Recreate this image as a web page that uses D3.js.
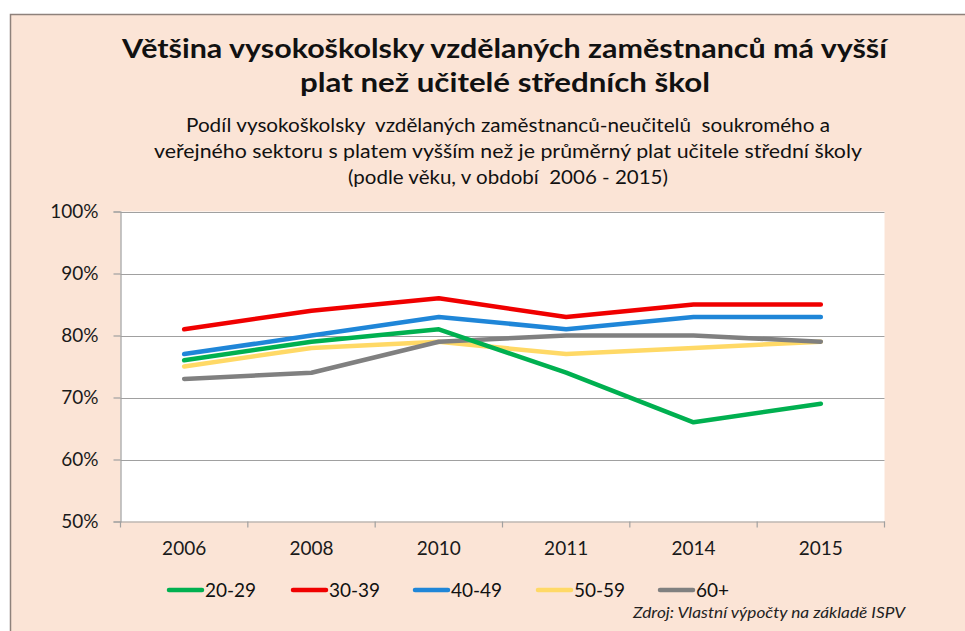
<!DOCTYPE html>
<html>
<head>
<meta charset="utf-8">
<script src="https://cdn.jsdelivr.net/npm/d3@7"></script>
<style>
  html, body { margin: 0; padding: 0; background: #ffffff; }
  svg { display: block; font-family: Lato, "Open Sans", sans-serif; }
  .pre { white-space: pre; }
</style>
</head>
<body>
<svg id="chart" width="965" height="631"></svg>
<script>
const years = ["2006", "2008", "2010", "2011", "2014", "2015"];
const groups = ["20-29", "30-39", "40-49", "50-59", "60+"];
const colors = ["#00B050", "#F00000", "#1F86D8", "#FFD966", "#808080"];
const v2029 = [76, 79, 81, 74, 66, 69];
const v3039 = [81, 84, 86, 83, 85, 85];
const v4049 = [77, 80, 83, 81, 83, 83];
const v5059 = [75, 78, 79, 77, 78, 79];
const v60   = [73, 74, 79, 80, 80, 79];
const yTicks = [50, 60, 70, 80, 90, 100];
const titleLines = ["Většina vysokoškolsky vzdělaných zaměstnanců má vyšší", "plat než učitelé středních škol"];
const subtitleLines = [
  "Podíl vysokoškolsky  vzdělaných zaměstnanců-neučitelů  soukromého a",
  "veřejného sektoru s platem vyšším než je průměrný plat učitele střední školy",
  "(podle věku, v období  2006 - 2015)"
];
const sourceText = "Zdroj: Vlastní výpočty na základě ISPV";

const seriesValues = [v2029, v3039, v4049, v5059, v60];
const drawOrder = [3, 4, 0, 2, 1];

const titleLayout = [{ x0: 122, x1: 887, y: 58 }, { x0: 300, x1: 710, y: 92 }];
const subtitleLayout = [{ x0: 186, x1: 830, y: 132 }, { x0: 154, x1: 862, y: 158 }, { x0: 348, x1: 668, y: 184 }];

const svg = d3.select("#chart");

// background panel
svg.append("rect").attr("x", 10.5).attr("y", 14.5).attr("width", 965).attr("height", 640)
  .attr("fill", "#FBE4D6").attr("stroke", "#8E817B").attr("stroke-width", 1.5);

const plot = { left: 120.5, right: 884.5, top: 211.5, bottom: 521.5 };

const x = d3.scaleBand().domain(years).range([plot.left, plot.right]).paddingInner(0).paddingOuter(0);
const y = d3.scaleLinear().domain([50, 100]).range([plot.bottom, plot.top]);

svg.append("rect").attr("x", plot.left).attr("y", plot.top)
  .attr("width", plot.right - plot.left).attr("height", plot.bottom - plot.top).attr("fill", "#ffffff");

// gridlines
svg.append("g").selectAll("line").data(yTicks.filter(d => d > 50)).join("line")
  .attr("x1", plot.left).attr("x2", plot.right)
  .attr("y1", d => Math.round(y(d)) + 0.5).attr("y2", d => Math.round(y(d)) + 0.5)
  .attr("stroke", "#A0A0A0").attr("stroke-width", 1.2);

// y axis
const yAxis = d3.axisLeft(y).tickValues(yTicks).tickFormat(d => d + "%").tickSize(7).tickPadding(15);
const gy = svg.append("g").attr("transform", `translate(${plot.left},0)`).call(yAxis);
gy.select(".domain").attr("stroke", "#A0A0A0").attr("stroke-width", 1.2);
gy.selectAll(".tick line").attr("stroke", "#A0A0A0").attr("stroke-width", 1.2);
gy.selectAll("text").attr("font-size", 19).attr("fill", "#1a1a1a").attr("font-family", "Lato, sans-serif");

// x axis
const xAxis = d3.axisBottom(x).tickSize(0).tickPadding(20);
const gx = svg.append("g").attr("transform", `translate(0,${plot.bottom})`).call(xAxis);
gx.select(".domain").attr("stroke", "#A0A0A0").attr("stroke-width", 1.2);
gx.selectAll("text").attr("font-size", 19).attr("fill", "#1a1a1a").attr("font-family", "Lato, sans-serif");
const boundaries = years.map(d => x(d)).concat([x(years[years.length - 1]) + x.bandwidth()]);
gx.append("g").selectAll("line").data(boundaries).join("line")
  .attr("x1", d => d).attr("x2", d => d).attr("y1", 0).attr("y2", 6)
  .attr("stroke", "#A0A0A0").attr("stroke-width", 1.2);

// lines
const line = d3.line().x((d, i) => x(years[i]) + x.bandwidth() / 2).y(d => y(d));
svg.append("g").selectAll("path").data(drawOrder).join("path")
  .attr("d", k => line(seriesValues[k]))
  .attr("fill", "none").attr("stroke", k => colors[k])
  .attr("stroke-width", 4.5).attr("stroke-linejoin", "round").attr("stroke-linecap", "round");

// title
svg.append("g").selectAll("text").data(titleLines).join("text")
  .attr("class", "pre")
  .attr("x", (d, i) => titleLayout[i].x0).attr("y", (d, i) => titleLayout[i].y)
  .attr("textLength", (d, i) => titleLayout[i].x1 - titleLayout[i].x0)
  .attr("lengthAdjust", "spacingAndGlyphs")
  .attr("font-size", 26).attr("font-weight", "bold")
  .attr("fill", "#111").text(d => d);

// subtitle
svg.append("g").selectAll("text").data(subtitleLines).join("text")
  .attr("class", "pre")
  .attr("x", (d, i) => subtitleLayout[i].x0).attr("y", (d, i) => subtitleLayout[i].y)
  .attr("textLength", (d, i) => subtitleLayout[i].x1 - subtitleLayout[i].x0)
  .attr("lengthAdjust", "spacingAndGlyphs")
  .attr("font-size", 18.5)
  .attr("fill", "#111").text(d => d);

// legend
const legendX = [169, 293, 415, 538, 660];
const lg = svg.append("g").selectAll("g").data(groups).join("g")
  .attr("transform", (d, i) => `translate(${legendX[i]},590)`);
lg.append("line").attr("x1", 0).attr("x2", 33).attr("y1", 0).attr("y2", 0)
  .attr("stroke", (d, i) => colors[i]).attr("stroke-width", 4.5).attr("stroke-linecap", "round");
lg.append("text").attr("x", 36).attr("y", 0).attr("dy", "0.36em")
  .attr("font-size", 19).attr("fill", "#111").text(d => d);

// source
svg.append("text").attr("x", 633).attr("y", 618)
  .attr("textLength", 272).attr("lengthAdjust", "spacingAndGlyphs")
  .attr("font-size", 14.5).attr("font-style", "italic").attr("fill", "#222").text(sourceText);
</script>
</body>
</html>
